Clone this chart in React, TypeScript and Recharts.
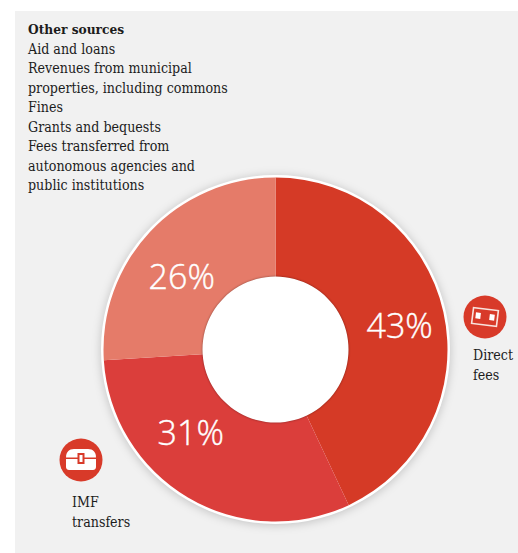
import { PieChart, Pie, Cell } from 'recharts';

const sourceNames = ['Direct fees', 'IMF transfers', 'Other sources'];
const sourceShares = [43, 31, 26];
const sourceColors = ['#d53a26', '#db3e3b', '#e57b69'];

const otherSourceLines = [
  'Aid and loans',
  'Revenues from municipal',
  'properties, including commons',
  'Fines',
  'Grants and bequests',
  'Fees transferred from',
  'autonomous agencies and',
  'public institutions',
];

const directFeesLines = ['Direct', 'fees'];
const imfLines = ['IMF', 'transfers'];

const slices = sourceNames.map((name, i) => ({ name, value: sourceShares[i] }));
const backing = [{ name: 'backing', value: 1 }];

// where each percentage sits: degrees clockwise from 12 o'clock, and distance from centre
const labelAngles = [78.9, 225.7, 308];
const labelRadii = [126.5, 118.5, 119];

const serif = '"DejaVu Serif Condensed", "DejaVu Serif", serif';
const ringX = 275.5;
const ringY = 349.5;

function ShareLabel(props: any) {
  const { cx, cy, index, value } = props;
  const a = (labelAngles[index] * Math.PI) / 180;
  return (
    <text
      x={cx + labelRadii[index] * Math.sin(a)}
      y={cy - labelRadii[index] * Math.cos(a)}
      fill="#fff"
      textAnchor="middle"
      dominantBaseline="central"
      fontFamily='"Open Sans", sans-serif'
      fontWeight={300}
      fontSize={34}
      stroke="#fff"
      strokeWidth={0.4}
    >
      {value}%
    </text>
  );
}

function Caption({ lines, left, top }: { lines: string[]; left: number; top: number }) {
  return (
    <div style={{ position: 'absolute', left, top, fontFamily: serif, fontSize: 14.1, lineHeight: '19.5px', color: '#1c1c1c', whiteSpace: 'nowrap' }}>
      {lines.map((l) => (
        <div key={l}>{l}</div>
      ))}
    </div>
  );
}

function BanknoteIcon() {
  return (
    <svg style={{ position: 'absolute', left: 463, top: 295 }} width={44} height={44}>
      <circle cx={22} cy={22} r={21.5} fill="#d83a29" />
      <g transform="rotate(7 22 22)">
        <rect x={9.5} y={14} width={25} height={16} fill="none" stroke="#f8e2dd" strokeWidth={1.6} />
        <rect x={12.5} y={18.5} width={5} height={6} fill="#fff" />
        <rect x={26.5} y={18.5} width={5} height={6} fill="#fff" />
      </g>
    </svg>
  );
}

function ChestIcon() {
  return (
    <svg style={{ position: 'absolute', left: 59, top: 438 }} width={44} height={44}>
      <circle cx={22} cy={22} r={21.5} fill="#d83a29" />
      <path d="M7 19.5 C7 14 10 11 15 11 H29 C34 11 37 14 37 19.5 Z" fill="#fff" />
      <path d="M7 21 H37 V29 C37 31 35.5 32 34 32 H10 C8.5 32 7 31 7 29 Z" fill="#fff" />
      <rect x={18.5} y={15} width={7} height={11} fill="#d83a29" />
      <rect x={20.5} y={17} width={3} height={7} fill="#fff" />
    </svg>
  );
}

export default function App() {
  return (
    <div style={{ position: 'absolute', left: 0, top: 0, width: 518, height: 553, background: '#fff', overflow: 'hidden' }}>
      <div style={{ position: 'absolute', left: 15, top: 11, right: 0, bottom: 0, background: '#f1f1f1' }} />
      <div style={{ position: 'absolute', left: 0, top: 0 }}>
        <PieChart width={518} height={553} margin={{ top: 0, right: 0, bottom: 0, left: 0 }}>
          {/* white rim with a soft shadow under the ring */}
          <Pie
            data={backing}
            dataKey="value"
            cx={ringX}
            cy={ringY}
            innerRadius={0}
            outerRadius={174.5}
            stroke="none"
            fill="#fff"
            isAnimationActive={false}
            style={{ filter: 'drop-shadow(0 1px 5px rgba(0,0,0,0.2))' }}
          />
          <Pie
            data={slices}
            dataKey="value"
            cx={ringX}
            cy={ringY}
            innerRadius={70}
            outerRadius={172}
            startAngle={90}
            endAngle={-270}
            stroke="none"
            isAnimationActive={false}
            labelLine={false}
            label={ShareLabel}
          >
            {slices.map((s, i) => (
              <Cell key={s.name} fill={sourceColors[i]} />
            ))}
          </Pie>
          {/* centre hole */}
          <Pie
            data={backing}
            dataKey="value"
            cx={ringX}
            cy={ringY}
            innerRadius={0}
            outerRadius={73}
            stroke="none"
            fill="#fff"
            isAnimationActive={false}
            style={{ filter: 'drop-shadow(0 0 1px rgba(0,0,0,0.4))' }}
          />
        </PieChart>
      </div>
      <div style={{ position: 'absolute', left: 28, top: 20, fontFamily: serif, fontSize: 13.6, fontWeight: 700, lineHeight: '19.5px', color: '#1c1c1c' }}>
        Other sources
      </div>
      <Caption lines={otherSourceLines} left={28} top={39.5} />
      <BanknoteIcon />
      <Caption lines={directFeesLines} left={473} top={346} />
      <ChestIcon />
      <Caption lines={imfLines} left={72} top={493} />
    </div>
  );
}
